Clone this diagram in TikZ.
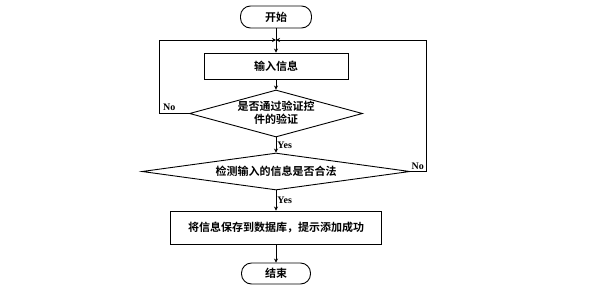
\documentclass[tikz,border=0pt]{standalone}
\usepackage{fontspec}
\newfontfamily\cjk{Noto Sans CJK SC}[BoldFont={Noto Sans CJK SC Bold}]
\newfontfamily\lat{Liberation Serif}
\usetikzlibrary{shapes.geometric,arrows.meta}
\begin{document}
\begin{tikzpicture}[x=1pt,y=-1pt,
  every node/.style={font=\cjk\bfseries\fontsize{11}{13}\selectfont},
  base/.style={draw,line width=0.9pt,inner sep=0pt},
  term/.style={base,rounded corners=10pt},
  proc/.style={base,rectangle},
  dec/.style={base,diamond},
  conn/.style={line width=0.9pt,-{Stealth[length=4pt,width=4pt]}},
  line/.style={line width=0.9pt},
  lab/.style={font=\lat\bfseries\fontsize{10}{12}\selectfont,inner sep=1pt}]
\useasboundingbox (0,0) rectangle (591,290);
\node[term,minimum width=71pt,minimum height=22pt] (start) at (276,17) {开始};
\node[proc,minimum width=144pt,minimum height=26pt] (input) at (276,66) {输入信息};
\node[dec,minimum width=173pt,minimum height=47pt] (d1) at (276,113.5)
  {\smash{\makebox[0pt]{\raisebox{-0.3em}{\begin{tabular}[c]{@{}c@{}}是否通过验证控\\[-1pt]件的验证\end{tabular}}}}};
\node[dec,minimum width=268pt,minimum height=37pt] (d2) at (276,171.5)
  {\smash{\makebox[0pt]{\raisebox{-0.35em}{检测输入的信息是否合法}}}};
\node[proc,minimum width=211pt,minimum height=33pt] (save) at (276,227.5) {将信息保存到数据库，提示添加成功};
\node[term,minimum width=69pt,minimum height=21pt] (end) at (276,273.5) {结束};
\coordinate (j) at (276,40);
\coordinate (lc) at (159,113.5);
\coordinate (rc) at (426,171.5);
\draw[conn] (start) -- (input);
\draw[conn] (input) -- (d1);
\draw[conn] (d1) -- node[lab,right,pos=0.5] (y1) {Yes} (d2);
\draw[conn] (d2) -- node[lab,right,pos=0.5] (y2) {Yes} (save);
\draw[conn] (save) -- (end);
\draw[conn] (d1.west) -- (lc) |- (j);
\draw[conn] (d2.east) -- (rc) |- (j);
\node[lab,anchor=south west] (n1) at (162,112) {No};
\node[lab,anchor=south east] (n2) at (425,170.5) {No};
\end{tikzpicture}
\end{document}
